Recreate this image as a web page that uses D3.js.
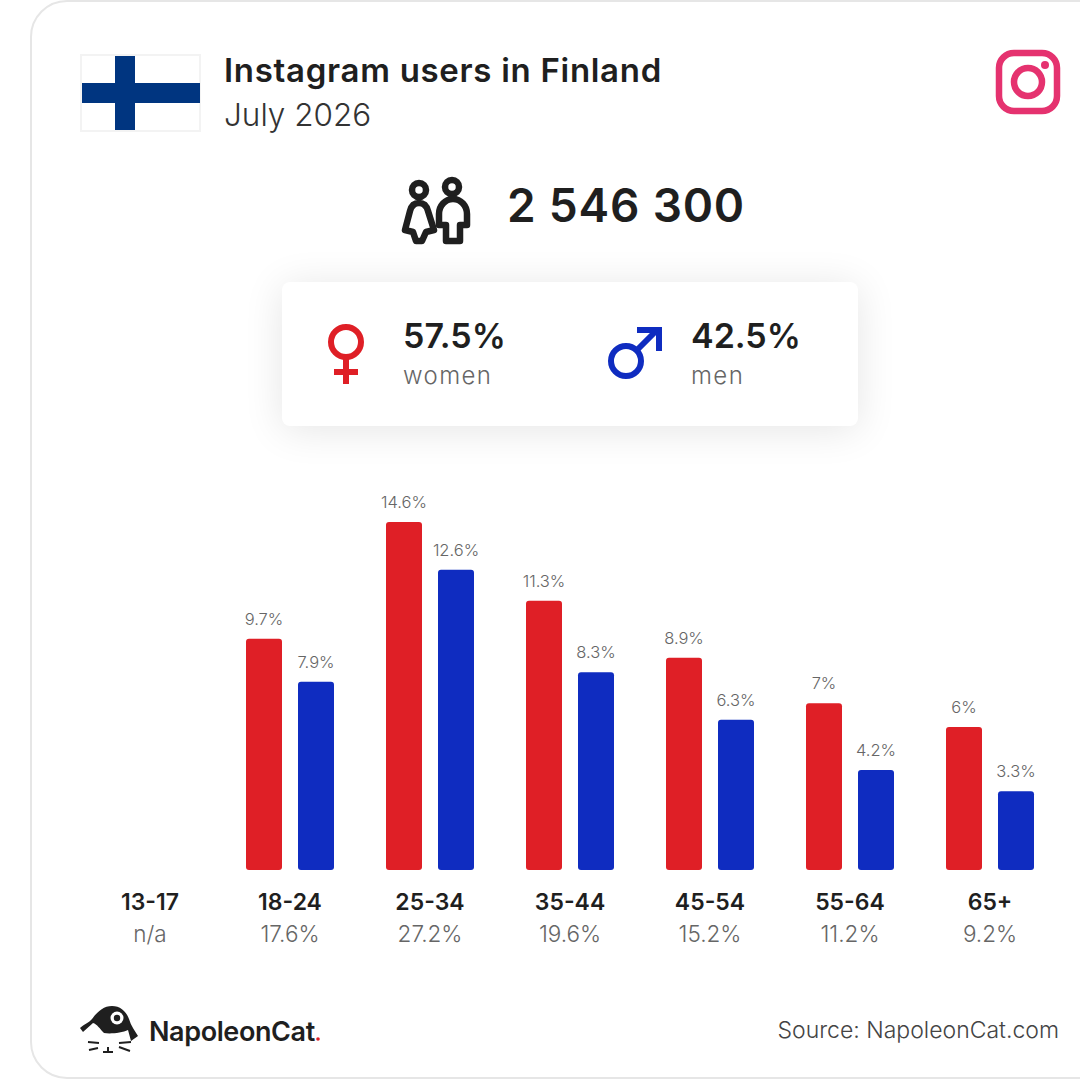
<!DOCTYPE html>
<html>
<head>
<meta charset="utf-8">
<script src="https://cdn.jsdelivr.net/npm/d3@7"></script>
<style>
  html, body { margin: 0; padding: 0; background: #fff; }
  svg { display: block; }
  text { font-family: Inter, "Open Sans", sans-serif; fill: #1f1f1f; }
</style>
</head>
<body>
<div id="chart"></div>
<script>
var ageGroups = ["13-17", "18-24", "25-34", "35-44", "45-54", "55-64", "65+"];
var womenValues = [null, 9.7, 14.6, 11.3, 8.9, 7, 6];
var menValues = [null, 7.9, 12.6, 8.3, 6.3, 4.2, 3.3];
var groupTotals = ["n/a", "17.6%", "27.2%", "19.6%", "15.2%", "11.2%", "9.2%"];
var genders = ["women", "men"];
var genderShares = ["57.5%", "42.5%"];
var colors = { women: "#df1f26", men: "#0f2cc0" };

var width = 1080, height = 1080;

var svg = d3.select("#chart").append("svg")
    .attr("width", width)
    .attr("height", height);

var defs = svg.append("defs");
var blur = defs.append("filter").attr("id", "soft")
    .attr("x", "-20%").attr("y", "-50%").attr("width", "140%").attr("height", "200%");
blur.append("feGaussianBlur").attr("stdDeviation", 20);

// card
svg.append("rect")
    .attr("x", 31).attr("y", 1)
    .attr("width", 1200).attr("height", 1077)
    .attr("rx", 36)
    .attr("fill", "#fff")
    .attr("stroke", "#e6e6e6")
    .attr("stroke-width", 2);

// flag
var flag = svg.append("g");
flag.append("rect").attr("x", 81).attr("y", 55).attr("width", 119).attr("height", 76)
    .attr("fill", "#fff").attr("stroke", "#f3f3f3").attr("stroke-width", 2);
flag.append("rect").attr("x", 115).attr("y", 56).attr("width", 20).attr("height", 74).attr("fill", "#003580");
flag.append("rect").attr("x", 82).attr("y", 83).attr("width", 118).attr("height", 20).attr("fill", "#003580");

// header
svg.append("text").attr("x", 224).attr("y", 82)
    .attr("font-size", 33).attr("font-weight", 600).attr("letter-spacing", 0.7)
    .text("Instagram users in Finland");
svg.append("text").attr("x", 224).attr("y", 126)
    .attr("font-size", 31.5).attr("font-weight", 300).style("fill", "#333")
    .text("July 2026");

// instagram icon
var ig = svg.append("g").attr("fill", "none").attr("stroke", "#e5326f").attr("stroke-width", 6.5);
ig.append("rect").attr("x", 999).attr("y", 53).attr("width", 58).attr("height", 58).attr("rx", 15);
ig.append("circle").attr("cx", 1028).attr("cy", 82).attr("r", 14);
svg.append("circle").attr("cx", 1045).attr("cy", 65).attr("r", 4).attr("fill", "#e5326f");

// people icon
var people = svg.append("g").attr("fill", "none").attr("stroke", "#1f1f1f")
    .attr("stroke-width", 6.5).attr("stroke-linejoin", "round").attr("stroke-linecap", "round");
people.append("circle").attr("cx", 419).attr("cy", 190).attr("r", 7);
people.append("circle").attr("cx", 452).attr("cy", 187).attr("r", 7);
people.append("path").attr("d", "M419 203 C413 203 411 207 410 211 L405 230 L413 232 L416 241 L422 241 L426 232 L434 230 L428 211 C427 207 425 203 419 203 Z");
people.append("path").attr("d", "M453 199 C445 199 439 206 439 214 L439 225 L446 225 L446 241 L460 241 L460 225 L467 225 L467 214 C467 206 461 199 453 199 Z");

// total
svg.append("text").attr("x", 507).attr("y", 222)
    .attr("font-size", 46).attr("font-weight", 600).attr("letter-spacing", 0.8)
    .text("2 546 300");

// gender box
svg.append("rect").attr("x", 282).attr("y", 286).attr("width", 576).attr("height", 144)
    .attr("fill", "#000").attr("opacity", 0.1).attr("filter", "url(#soft)");
svg.append("rect").attr("x", 282).attr("y", 282).attr("width", 576).attr("height", 144)
    .attr("rx", 8).attr("fill", "#fff");

var female = svg.append("g").attr("stroke", colors.women).attr("fill", "none").attr("stroke-width", 6);
female.append("circle").attr("cx", 346).attr("cy", 342).attr("r", 15);
female.append("line").attr("x1", 346).attr("x2", 346).attr("y1", 358).attr("y2", 384);
female.append("line").attr("x1", 334).attr("x2", 358).attr("y1", 372).attr("y2", 372);

var male = svg.append("g").attr("stroke", colors.men).attr("fill", "none").attr("stroke-width", 6);
male.append("circle").attr("cx", 626).attr("cy", 361).attr("r", 15);
male.append("line").attr("x1", 637).attr("x2", 658).attr("y1", 350).attr("y2", 329);
male.append("path").attr("d", "M637 330 L659 330 L659 351");

var genderX = [403, 691];
genders.forEach(function(g, i) {
    svg.append("text").attr("x", genderX[i]).attr("y", 348)
        .attr("font-size", 34).attr("font-weight", 600)
        .text(genderShares[i]);
    svg.append("text").attr("x", genderX[i]).attr("y", 384)
        .attr("font-size", 24).attr("font-weight", 300).attr("letter-spacing", 1.4)
        .style("fill", "#666")
        .text(g);
});

// bars
var x = d3.scaleBand().domain(ageGroups).range([80, 1060]);
var xGender = d3.scaleBand().domain(genders).range([0, 88]).paddingInner(16 / 52);
var y = d3.scaleLinear().domain([0, 14.6]).range([870, 522]);

var rows = [];
ageGroups.forEach(function(age, i) {
    if (womenValues[i] != null) rows.push({ age: age, gender: "women", value: womenValues[i] });
    if (menValues[i] != null) rows.push({ age: age, gender: "men", value: menValues[i] });
});

function barX(d) {
    return x(d.age) + x.bandwidth() / 2 - 44 + xGender(d.gender);
}

svg.append("g").selectAll("rect")
    .data(rows)
    .enter().append("rect")
    .attr("x", barX)
    .attr("y", function(d) { return y(d.value); })
    .attr("width", xGender.bandwidth())
    .attr("height", function(d) { return y(0) - y(d.value); })
    .attr("rx", 3)
    .attr("fill", function(d) { return colors[d.gender]; });

svg.append("g").selectAll("text")
    .data(rows)
    .enter().append("text")
    .attr("x", function(d) { return barX(d) + xGender.bandwidth() / 2; })
    .attr("y", function(d) { return y(d.value) - 14; })
    .attr("text-anchor", "middle")
    .attr("font-size", 16.5).attr("font-weight", 300)
    .style("fill", "#666")
    .text(function(d) { return d.value + "%"; });

// age labels
svg.append("g").selectAll("text")
    .data(ageGroups)
    .enter().append("text")
    .attr("x", function(d) { return x(d) + x.bandwidth() / 2; })
    .attr("y", 910)
    .attr("text-anchor", "middle")
    .attr("font-size", 23).attr("font-weight", 600)
    .text(function(d) { return d; });

svg.append("g").selectAll("text")
    .data(groupTotals)
    .enter().append("text")
    .attr("x", function(d, i) { return x(ageGroups[i]) + x.bandwidth() / 2; })
    .attr("y", 942)
    .attr("text-anchor", "middle")
    .attr("font-size", 22.5).attr("font-weight", 300)
    .style("fill", "#666")
    .text(function(d) { return d; });

// logo
var logo = svg.append("g");
logo.append("path").attr("fill", "#1f1f1f")
    .attr("d", "M80 1028 C84 1024 89 1023 92 1019 C98 1011 104 1006 112 1006 C120 1006 126 1011 129 1019 C131 1026 135 1031 138 1036 L131 1041 L128 1030 C122 1033 110 1034 104 1033 C100 1029 97 1024 93 1023 L83 1032 Z");
logo.append("circle").attr("cx", 117).attr("cy", 1018).attr("r", 6.5).attr("fill", "#fff");
logo.append("circle").attr("cx", 117).attr("cy", 1018).attr("r", 3.2).attr("fill", "#1f1f1f");
logo.append("path").attr("fill", "none").attr("stroke", "#1f1f1f").attr("stroke-width", 2)
    .attr("d", "M88 1042 L99 1043 M89 1050 L98 1048 M119 1043 L131 1042 M119 1047 L130 1051 M103 1052 L113 1052 M108 1047 L108 1052");
svg.append("text").attr("x", 149).attr("y", 1041)
    .attr("font-size", 27).attr("font-weight", 600).attr("letter-spacing", -0.4)
    .text("NapoleonCat");
svg.append("circle").attr("cx", 318).attr("cy", 1039).attr("r", 1.8).attr("fill", colors.women);

// source
svg.append("text").attr("x", 1059).attr("y", 1038)
    .attr("text-anchor", "end")
    .attr("font-size", 23).attr("font-weight", 300)
    .style("fill", "#444")
    .text("Source: NapoleonCat.com");
</script>
</body>
</html>
